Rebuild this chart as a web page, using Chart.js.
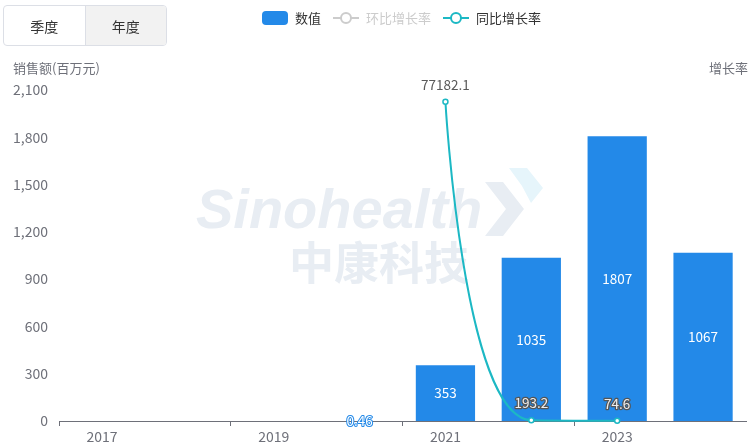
<!DOCTYPE html>
<html>
<head>
<meta charset="utf-8">
<script src="https://cdn.jsdelivr.net/npm/chart.js@4.4.1/dist/chart.umd.min.js"></script>
<style>
  html, body { margin: 0; padding: 0; background: #fff; }
  body { width: 754px; height: 448px; position: relative; overflow: hidden;
         font-family: "Noto Sans CJK SC", "Noto Sans", sans-serif; }
  #wrap { position: absolute; left: 0; top: 0; width: 754px; height: 448px; }
  .btns { position: absolute; left: 3px; top: 5px; width: 164px; height: 41px;
          border: 1px solid #dcdfe6; border-radius: 4px; box-sizing: border-box; display: flex; overflow: hidden; }
  .btn { flex: 1; display: flex; align-items: center; justify-content: center; font-size: 14px; color: #333; }
  .btn.on { background: #f2f2f2; border-left: 1px solid #dcdfe6; }
  .legend { position: absolute; top: 8px; left: 262px; height: 19px; font-size: 13px; color: #333; }
  .li { position: absolute; top: 0; height: 19px; display: flex; align-items: center; white-space: nowrap; }
  .li span { margin-left: 7px; }
  .atitle { position: absolute; font-size: 13px; color: #6e7079; top: 58px; }
</style>
</head>
<body>
<div id="wrap"><canvas id="c" width="754" height="448"></canvas></div>
<div class="btns"><div class="btn">季度</div><div class="btn on">年度</div></div>
<div class="legend">
  <div class="li" style="left:0px"><svg width="26" height="14"><rect x="0" y="0" width="26" height="14" rx="4" fill="#2389e8"/></svg><span>数值</span></div>
  <div class="li" style="left:71px;color:#ccc"><svg width="26" height="14"><line x1="0" y1="7" x2="26" y2="7" stroke="#ccc" stroke-width="2"/><circle cx="13" cy="7" r="5" fill="#fff" stroke="#ccc" stroke-width="2"/></svg><span>环比增长率</span></div>
  <div class="li" style="left:181px"><svg width="26" height="14"><line x1="0" y1="7" x2="26" y2="7" stroke="#1cb8c4" stroke-width="2"/><circle cx="13" cy="7" r="5" fill="#fff" stroke="#1cb8c4" stroke-width="2"/></svg><span>同比增长率</span></div>
</div>
<div class="atitle" style="left:13px">销售额(百万元)</div>
<div class="atitle" style="right:6px">增长率</div>
<script>
const categories = ['2017', '2018', '2019', '2020', '2021', '2022', '2023', '2024'];
const salesValues = [null, null, null, 0.46, 353, 1035, 1807, 1067];
const yoyGrowth = [null, null, null, null, 77182.1, 193.2, 74.6, null];
const momGrowth = [null, null, null, null, null, null, null, null];
const leftAxisMax = 2100;
const leftAxisStep = 300;
const rightAxisMax = 80000;

const BAR_COLOR = '#2389e8';
const LINE_COLOR = '#1cb8c4';
const FONT = '"Noto Sans CJK SC", "Noto Sans", sans-serif';
const SMOOTH = 0.5;

const watermark = {
  id: 'watermark',
  beforeDatasetsDraw(chart) {
    const ctx = chart.ctx;
    ctx.save();
    ctx.fillStyle = '#e8edf3';
    ctx.font = 'italic bold 56px "Liberation Sans", Arial, sans-serif';
    ctx.textBaseline = 'alphabetic';
    ctx.textAlign = 'left';
    ctx.fillText('Sinohealth', 196, 228);
    ctx.font = 'bold 45px ' + FONT;
    ctx.fillText('中康科技', 289, 280);
    ctx.beginPath();
    ctx.moveTo(485, 182); ctx.lineTo(503, 182); ctx.lineTo(524, 209);
    ctx.lineTo(503, 236); ctx.lineTo(485, 236); ctx.lineTo(506, 209); ctx.closePath();
    ctx.fill();
    ctx.fillStyle = '#e6f5fb';
    ctx.beginPath();
    ctx.moveTo(509, 168); ctx.lineTo(527, 168); ctx.lineTo(543, 188);
    ctx.lineTo(531, 203); ctx.lineTo(522, 186); ctx.closePath();
    ctx.fill();
    ctx.restore();
  }
};

// smoothing similar to the original chart's curve (control points clamped to neighbours)
const smoothCurve = {
  id: 'smoothCurve',
  beforeDatasetDraw(chart, args) {
    const meta = args.meta;
    if (meta.type !== 'line' || !meta.dataset || args.index !== 2) return;
    meta.dataset.updateControlPoints(chart.chartArea, meta.iScale.axis);
    const pts = meta.data.filter(p => !p.skip);
    const clamp = (v, a, b) => Math.max(Math.min(v, Math.max(a, b)), Math.min(a, b));
    pts.forEach((p, k) => {
      const prev = pts[k - 1], next = pts[k + 1];
      const x = p.x, y = p.y;
      if (!prev || !next) {
        p.cp1x = x; p.cp1y = y; p.cp2x = x; p.cp2y = y;
        return;
      }
      let vx = next.x - prev.x, vy = next.y - prev.y;
      const lenPrev = Math.hypot(x - prev.x, y - prev.y);
      const lenNext = Math.hypot(next.x - x, next.y - y);
      const r = lenNext / (lenNext + lenPrev);
      let ncx = x + vx * SMOOTH * r, ncy = y + vy * SMOOTH * r;
      ncx = clamp(ncx, next.x, x); ncy = clamp(ncy, next.y, y);
      vx = ncx - x; vy = ncy - y;
      let pcx = x - vx * lenPrev / lenNext, pcy = y - vy * lenPrev / lenNext;
      pcx = clamp(pcx, prev.x, x); pcy = clamp(pcy, prev.y, y);
      vx = x - pcx; vy = y - pcy;
      ncx = x + vx * lenNext / lenPrev; ncy = y + vy * lenNext / lenPrev;
      p.cp1x = pcx; p.cp1y = pcy; p.cp2x = ncx; p.cp2y = ncy;
    });
  }
};

const labels = {
  id: 'valueLabels',
  afterDatasetsDraw(chart) {
    const ctx = chart.ctx;
    ctx.save();
    ctx.textAlign = 'center';
    ctx.textBaseline = 'middle';
    ctx.lineJoin = 'round';
    const barMeta = chart.getDatasetMeta(0);
    barMeta.data.forEach((el, i) => {
      const v = salesValues[i];
      if (v === null || v === undefined) return;
      const y = (el.y + el.base) / 2;
      ctx.font = '13.5px ' + FONT;
      ctx.lineWidth = 2;
      ctx.strokeStyle = BAR_COLOR;
      ctx.strokeText(String(v), el.x, y);
      ctx.fillStyle = '#fff';
      ctx.fillText(String(v), el.x, y);
    });
    const lineMeta = chart.getDatasetMeta(2);
    lineMeta.data.forEach((el, i) => {
      const v = yoyGrowth[i];
      if (v === null || v === undefined) return;
      const y = el.y - 17;
      ctx.font = '13.5px ' + FONT;
      const bar = barMeta.data[i];
      const overBar = bar && salesValues[i] !== null && y > bar.y;
      if (overBar) {
        ctx.lineWidth = 2.5;
        ctx.strokeStyle = '#555';
        ctx.strokeText(String(v), el.x, y);
        ctx.fillStyle = '#eee';
        ctx.fillText(String(v), el.x, y);
      } else {
        ctx.fillStyle = '#5a5a5a';
        ctx.fillText(String(v), el.x, y);
      }
    });
    ctx.restore();
  }
};

new Chart(document.getElementById('c'), {
  data: {
    labels: categories,
    datasets: [
      {
        type: 'bar', label: '数值', data: salesValues, yAxisID: 'y',
        backgroundColor: BAR_COLOR, barPercentage: 0.69, categoryPercentage: 1, order: 2
      },
      {
        type: 'line', label: '环比增长率', data: momGrowth, yAxisID: 'y1', hidden: true,
        borderColor: '#ccc', order: 1
      },
      {
        type: 'line', label: '同比增长率', data: yoyGrowth, yAxisID: 'y1',
        borderColor: LINE_COLOR, borderWidth: 2, tension: 0.4,
        pointRadius: 2.5, pointBackgroundColor: '#fff', pointBorderColor: LINE_COLOR, pointBorderWidth: 1.5,
        order: 0, clip: false
      }
    ]
  },
  options: {
    responsive: false, animation: false,
    layout: { padding: { left: 0, right: 8, top: 90, bottom: 0 } },
    plugins: { legend: { display: false }, tooltip: { enabled: false } },
    scales: {
      x: {
        type: 'category', offset: true,
        grid: {
          display: true, offset: true, drawOnChartArea: false, drawTicks: true, tickLength: 5,
          color: (c) => (c.index % 2 === 0 ? '#6e7079' : 'rgba(0,0,0,0)')
        },
        border: { display: true, color: '#6e7079', width: 1 },
        ticks: {
          autoSkip: false, maxRotation: 0, padding: 2, color: '#6e7079',
          font: { family: FONT, size: 14 },
          callback: (v, i) => (i % 2 === 0 ? categories[i] : '')
        },
        afterFit: (s) => { s.height = 27; }
      },
      y: {
        position: 'left', min: 0, max: leftAxisMax,
        grid: { display: false, drawTicks: false },
        border: { display: false },
        ticks: {
          stepSize: leftAxisStep, padding: 11, color: '#6e7079',
          font: { family: FONT, size: 14 },
          callback: (v) => v.toLocaleString('en-US')
        },
        afterFit: (s) => { s.width = 59; }
      },
      y1: { position: 'right', display: false, min: 0, max: rightAxisMax }
    }
  },
  plugins: [watermark, smoothCurve, labels]
});
</script>
</body>
</html>
